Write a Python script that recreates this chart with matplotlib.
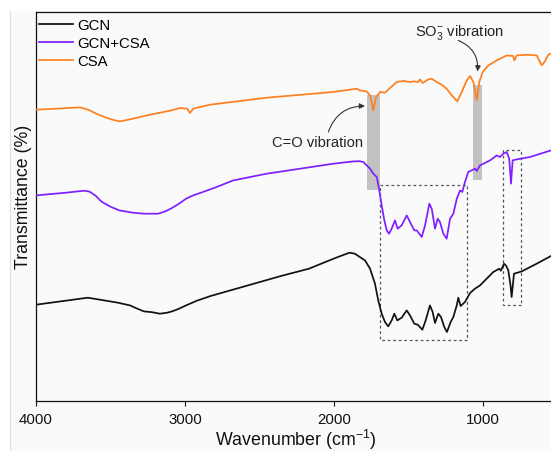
import matplotlib
matplotlib.use("Agg")
import matplotlib.pyplot as plt
from matplotlib.patches import Rectangle
from matplotlib.lines import Line2D

plt.rcParams['font.family'] = ['Liberation Sans', 'DejaVu Sans']
plt.rcParams['mathtext.fontset'] = 'custom'
plt.rcParams['mathtext.rm'] = 'Liberation Sans'
plt.rcParams['mathtext.it'] = 'Liberation Sans:italic'
plt.rcParams['mathtext.bf'] = 'Liberation Sans:bold'

# ---- data (wavenumber in cm^-1, transmittance in arbitrary offset units) ----
csa_wn = [4000, 3705, 3650, 3580, 3500, 3440, 3380, 3250, 3100, 3034, 2985, 2966, 2945,
          2899, 2832, 2452, 2007, 1848, 1826, 1781, 1758, 1736, 1718, 1691, 1658, 1624,
          1579, 1535, 1490, 1468, 1434, 1423, 1405, 1367, 1344, 1311, 1277, 1244, 1210,
          1172, 1143, 1109, 1087, 1064, 1042, 1025, 1002, 964, 908, 841, 797, 790, 774,
          707, 640, 606, 584, 562, 500]
csa_t = [291, 293.3, 291, 286, 281.5, 279.3, 281, 285.5, 290, 292.7, 292, 287.7, 292,
         293.7, 296, 303, 308.7, 312, 310.3, 309.3, 305.3, 290.3, 303.7, 308.7, 308, 312.7,
         318.7, 319.7, 318.7, 319.3, 318.7, 321.3, 317.7, 321.3, 322, 318.7, 316, 312, 305.3,
         299.3, 308.7, 320.3, 324.7, 318.7, 300.3, 318.7, 328.7, 335.3, 340.3, 345.3, 344.7,
         340.3, 345.3, 346, 345.3, 335.3, 339.3, 346, 350]

mix_wn = [4000, 3800, 3676, 3640, 3600, 3560, 3500, 3440, 3350, 3275, 3181, 3130, 3087,
          3040, 2993, 2950, 2899, 2800, 2676, 2452, 2228, 2005, 1870, 1830, 1803, 1792,
          1758, 1736, 1713, 1698, 1680, 1662, 1646, 1631, 1613, 1591, 1573, 1546, 1512,
          1490, 1461, 1445, 1411, 1389, 1360, 1344, 1322, 1304, 1289, 1266, 1244, 1221,
          1199, 1176, 1154, 1139, 1121, 1099, 1054, 1042, 1020, 953, 908, 886, 864, 841,
          824, 812, 801, 774, 685, 544, 500]
mix_t = [205.3, 208, 210, 209, 205, 199, 194, 190.3, 188, 187, 187, 189.5, 192.7,
         197, 202, 205, 207.7, 213, 220.3, 227, 232, 237, 239.3, 239.5, 238.7, 237,
         232, 227, 223.7, 212, 195.3, 180.3, 170.3, 167, 172, 180.3, 172, 175.3, 185.3,
         178.7, 170.3, 170.3, 163.7, 175.3, 197, 192, 172, 182, 178.7, 167, 162, 182,
         187, 202, 210.3, 208.7, 218.7, 228.7, 232, 229.7, 235.3, 240.3, 245.3, 243.7, 247,
         248.7, 242, 217, 240.3, 241.3, 243.7, 250.3, 252]

gcn_wn = [4000, 3652, 3550, 3450, 3369, 3320, 3275, 3220, 3169, 3120, 3087, 3040, 2993,
          2920, 2828, 2592, 2356, 2168, 2003, 1950, 1897, 1860, 1830, 1792, 1758, 1725,
          1703, 1680, 1658, 1636, 1613, 1595, 1575, 1546, 1512, 1490, 1461, 1438, 1407,
          1385, 1356, 1338, 1322, 1300, 1282, 1260, 1242, 1217, 1199, 1176, 1166, 1150,
          1121, 1087, 1054, 1020, 931, 891, 880, 859, 845, 830, 815, 808, 800, 792, 740,
          640, 544, 500]
gcn_t = [96, 103, 100.5, 98, 95.3, 92, 89.3, 88.5, 87, 88, 89.3, 92, 95.3,
         100, 104.7, 114.7, 124.7, 132, 142, 145, 148, 147, 144, 140.3, 132, 117,
         100.3, 87, 78.7, 74.3, 80.3, 87, 80.3, 83, 90.3, 85.3, 77, 76, 71,
         80.3, 95.3, 88.7, 77.7, 87, 83.7, 73.7, 68.7, 78.7, 83.7, 95.3, 103, 94.7,
         98.7, 107.7, 112, 115.3, 128.7, 132, 130, 137, 135, 130.3, 115, 103.7, 115, 127,
         129.3, 137, 144.7, 147]

series_labels = ['GCN', 'GCN+CSA', 'CSA']
series_colors = ['#111111', '#7f1fff', '#ff7f1e']

# highlighted bands (wavenumber range, transmittance range)
band_wn = [(1781, 1691), (1069, 1009)]
band_t = [(210.3, 305.3), (220.3, 316)]
# dashed boxes
box_wn = [(1691, 1109), (868, 747)]
box_t = [(60.3, 215.3), (96, 250.3)]

# annotations: label, text position, arrow start, arrow end
ann_labels = ['C=O vibration', r'SO$_3^{-}$ vibration']
ann_text_xy = [(2107, 258.7), (1158, 368.7)]
ann_start = [(2038, 268.7), (1166, 360.3)]
ann_end = [(1792, 294.7), (1036, 329.3)]

xticks = [4000, 3000, 2000, 1000]

# ---- figure ----
W, H = 551, 452
fig = plt.figure(figsize=(W / 100, H / 100), dpi=100)
fig.patch.set_facecolor('white')
fig.patches.append(Rectangle((10 / W, 0), 1 - 10 / W, 1 - 12 / H, transform=fig.transFigure,
                             facecolor='#fafafa', edgecolor='none', zorder=-10))
fig.lines.append(Line2D([10 / W, 10 / W], [0, 1 - 12 / H], transform=fig.transFigure,
                        color='#e0e0e0', lw=0.8))

left, right, top, bottom = 36, 557.5, 13.3, 401.7
ax = fig.add_axes([left / W, 1 - bottom / H, (right - left) / W, (bottom - top) / H])
ax.set_facecolor('none')

lw = 1.25
ax.plot(gcn_wn, gcn_t, color=series_colors[0], lw=lw, label=series_labels[0], zorder=3,
        solid_joinstyle='round')
ax.plot(mix_wn, mix_t, color=series_colors[1], lw=lw, label=series_labels[1], zorder=3,
        solid_joinstyle='round')
ax.plot(csa_wn, csa_t, color=series_colors[2], lw=lw, label=series_labels[2], zorder=3,
        solid_joinstyle='round')

for (w1, w2), (t1, t2) in zip(band_wn, band_t):
    ax.add_patch(Rectangle((w2, t1), w1 - w2, t2 - t1, facecolor='#c2c2c2',
                           edgecolor='none', zorder=1))
for (w1, w2), (t1, t2) in zip(box_wn, box_t):
    ax.add_patch(Rectangle((w2, t1), w1 - w2, t2 - t1, facecolor='none',
                           edgecolor='#555555', lw=0.9, ls=(0, (2.2, 2.2)), zorder=2))

for lab, txy, s, e in zip(ann_labels, ann_text_xy, ann_start, ann_end):
    ax.text(txy[0], txy[1], lab, ha='center', va='center', fontsize=10.6, color='#222222')
    ax.annotate('', xy=e, xytext=s,
                arrowprops=dict(arrowstyle='-|>', color='#333333', lw=0.8,
                                mutation_scale=8, shrinkA=0, shrinkB=0,
                                connectionstyle='arc3,rad=-0.35'))

ax.set_xlim(4000, 500)
ax.set_ylim(0, bottom - top)
ax.set_xticks(xticks)
ax.set_xticklabels([str(v) for v in xticks])
ax.set_yticks([])
ax.tick_params(axis='x', direction='out', length=3.6, width=0.8, pad=4.5,
               labelsize=10.8, colors='#111111')
for s in ['left', 'top', 'bottom']:
    ax.spines[s].set_linewidth(0.9)
    ax.spines[s].set_color('#111111')
ax.spines['right'].set_visible(False)

ax.legend(loc='upper left', bbox_to_anchor=(3.3 / (right - left), 1 - 6.0 / (bottom - top)),
          frameon=False, fontsize=10.7, handlelength=2.26, handletextpad=0.31,
          labelspacing=0.25, borderpad=0, borderaxespad=0)

fig.text(296 / W, 1 - 440 / H, r'Wavenumber (cm$^{-1}$)', ha='center', va='center',
         fontsize=12.8, color='#111111')
fig.text(24 / W, 1 - 196.7 / H, 'Transmittance (%)', rotation=90, ha='center',
         va='center', fontsize=12.8, color='#111111')

fig.savefig('out.png', dpi=100)
